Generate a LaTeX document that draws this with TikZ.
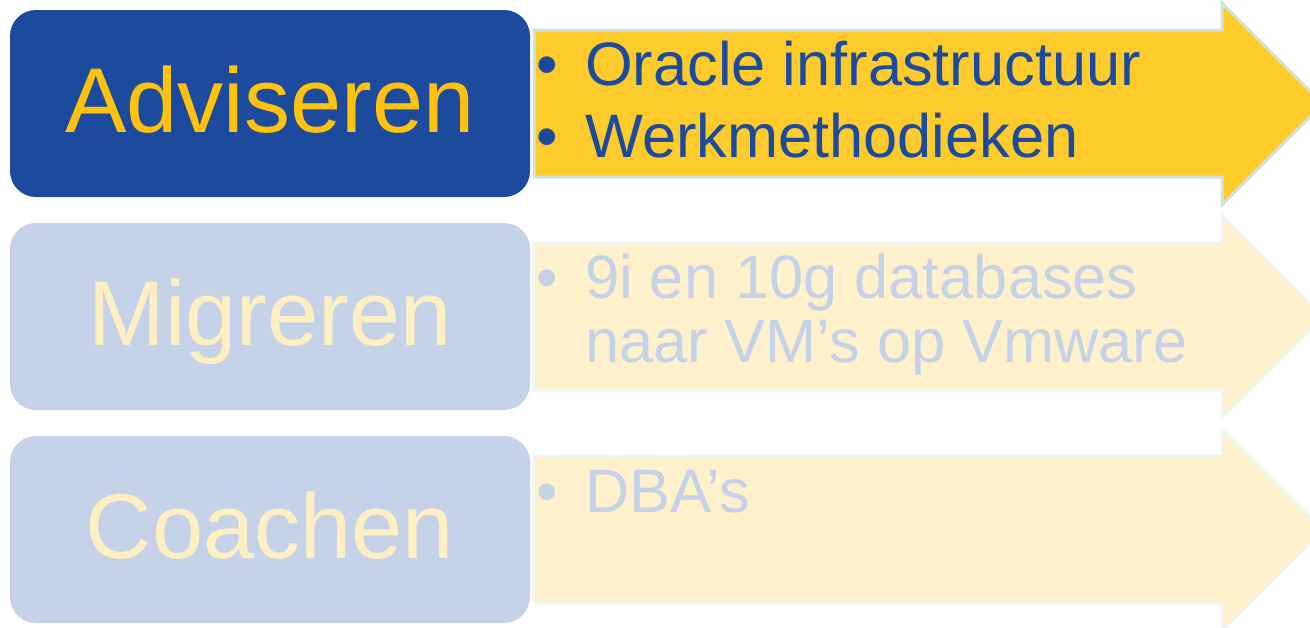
\documentclass[tikz,border=0pt]{standalone}
\usepackage{fontspec}
\setmainfont{Liberation Sans}
\definecolor{advblue}{RGB}{28,74,156}
\definecolor{advyellow}{RGB}{255,194,14}
\definecolor{arrowyellow}{RGB}{253,203,44}
\definecolor{arrowedge}{RGB}{211,226,222}
\definecolor{fadeblue}{RGB}{197,210,232}
\definecolor{fadeyellow}{RGB}{255,241,203}
\definecolor{fadetext}{RGB}{255,240,195}
\definecolor{fadeedge}{RGB}{240,244,243}

\begin{document}
\begin{tikzpicture}[x=0.75pt,y=0.75pt,yscale=-1,xscale=1,
  stepbox/.style={rounded corners=19.5pt, minimum width=390pt, minimum height=140.25pt,
    inner sep=0pt, text height=49.4pt, text depth=5.2pt, font=\fontsize{69}{83}\selectfont},
  stepon/.style={stepbox, fill=advblue, text=advyellow},
  stepoff/.style={stepbox, fill=fadeblue, text=fadetext},
  arrowon/.style={fill=arrowyellow, draw=arrowedge, line width=2.25pt},
  arrowoff/.style={fill=fadeyellow, draw=fadeedge, line width=2.25pt},
  bul/.style={anchor=base, inner sep=0pt, font=\fontsize{46}{55}\selectfont},
  item/.style={anchor=base west, inner sep=0pt, font=\fontsize{46}{55}\selectfont}]
\useasboundingbox (0,0) rectangle (1310,628);
\clip (0,0) rectangle (1310,628);

%Shape: Arrow [row 1]
\draw [arrowon] (534,30) -- (1222,30) -- (1222,3) -- (1323,104) -- (1222,205) -- (1222,177) -- (534,177) -- cycle ;
%Shape: Arrow [row 2]
\draw [arrowoff] (534,243) -- (1222,243) -- (1222,216) -- (1323,317) -- (1222,418) -- (1222,390) -- (534,390) -- cycle ;
%Shape: Arrow [row 3]
\draw [arrowoff] (534,456) -- (1222,456) -- (1222,429) -- (1323,530) -- (1222,631) -- (1222,603) -- (534,603) -- cycle ;

%Shape: Rounded Rect [row 1]
\node [stepon] (advies) at (270,103.5) {Adviseren};
%Shape: Rounded Rect [row 2]
\node [stepoff] (migratie) at (270,316.5) {Migreren};
%Shape: Rounded Rect [row 3]
\node [stepoff] (coach) at (270,529.5) {Coachen};

% Text Node
\node [bul, text=advblue] (b11) at (547,85) {•};
\node [item, text=advblue] (t11) at (585,85) {Oracle infrastructuur};
% Text Node
\node [bul, text=advblue] (b12) at (547,157) {•};
\node [item, text=advblue] (t12) at (585,157) {Werkmethodieken};
% Text Node
\node [bul, text=fadeblue] (b21) at (547,298) {•};
\node [item, text=fadeblue] (t21) at (585,298) {9i en 10g databases};
\node [item, text=fadeblue] (t22) at (585,362) {naar VM’s op Vmware};
% Text Node
\node [bul, text=fadeblue] (b31) at (547,512) {•};
\node [item, text=fadeblue] (t31) at (585,512) {DBA’s};

\end{tikzpicture}
\end{document}
